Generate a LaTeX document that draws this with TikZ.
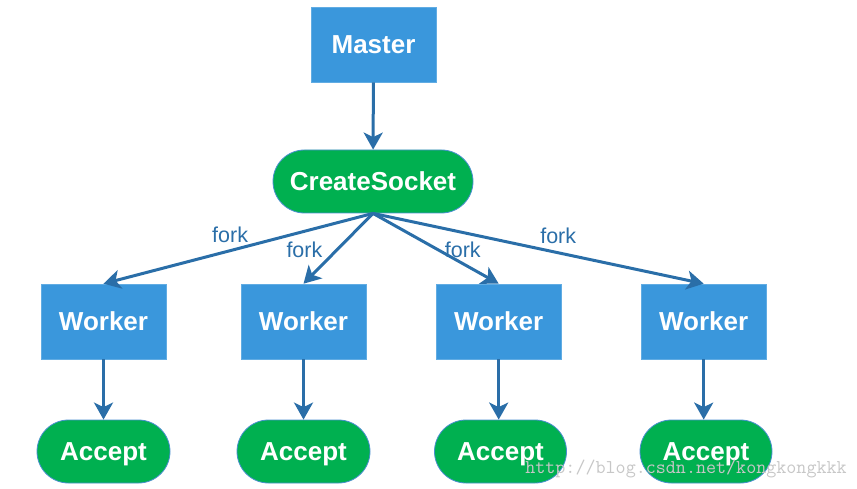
\documentclass[tikz,border=0pt]{standalone}
\usepackage{fontspec}
\setmainfont{Liberation Sans}
\usetikzlibrary{shapes.misc, arrows.meta}

\definecolor{boxblue}{HTML}{3A97DC}
\definecolor{capgreen}{HTML}{00B050}
\definecolor{linkblue}{HTML}{2A6EA8}
\definecolor{rimblue}{HTML}{4A8FCF}

\begin{document}
\begin{tikzpicture}[x=1pt, y=-1pt,
	procbox/.style={fill=boxblue, draw=boxblue!80!white, line width=0.6pt,
		minimum width=125pt, minimum height=75pt, inner sep=0pt,
		text height=18.5pt, text depth=0pt,
		text=white, font=\fontsize{26}{29}\selectfont\bfseries},
	callcap/.style={rounded rectangle, fill=capgreen, draw=rimblue, line width=0.8pt,
		minimum height=63pt, inner sep=0pt,
		text height=18.5pt, text depth=0pt,
		text=white, font=\fontsize{26}{29}\selectfont\bfseries},
	flow/.style={-{Stealth[length=17pt, width=19pt, inset=4.5pt]}, draw=linkblue, line width=3pt},
	forklabel/.style={text=linkblue, font=\fontsize{21.5}{24}\selectfont, inner sep=1pt}
	]
	\useasboundingbox (0,0) rectangle (857,489);
	\node[procbox] (master) at (373.5, 44.5) {Master};
	\node[callcap, minimum width=200pt] (socket) at (373, 181.5) {CreateSocket};
	\node[procbox] (worker1) at (103.5, 321.5) {Worker};
	\node[procbox] (worker2) at (303.5, 321.5) {Worker};
	\node[procbox] (worker3) at (498.7, 321.5) {Worker};
	\node[procbox] (worker4) at (703.7, 321.5) {Worker};
	\node[callcap, minimum width=133pt] (accept1) at (103.5, 451.5) {Accept};
	\node[callcap, minimum width=133pt] (accept2) at (303.5, 451.5) {Accept};
	\node[callcap, minimum width=132pt] (accept3) at (500.5, 451.5) {Accept};
	\node[callcap, minimum width=132pt] (accept4) at (706, 451.5) {Accept};
	\draw[flow] (master) -- (socket);
	\draw[flow] (socket.south) -- node[forklabel, pos=0.53, above=5pt] {fork} (worker1.north);
	\draw[flow] (socket.south) -- node[forklabel, pos=0.52, left=12pt] {fork} (worker2.north);
	\draw[flow] (socket.south) -- node[forklabel, pos=0.52, right=4pt] {fork} (worker3.north);
	\draw[flow] (socket.south) -- node[forklabel, pos=0.56, above=7pt] {fork} (worker4.north);
	\foreach \i in {1,...,4}
		\draw[flow] (worker\i.south) -- (worker\i.south |- accept\i.north);
	\node[text=black!22, font=\ttfamily\fontsize{19.5}{22}\selectfont, inner sep=0pt] (mark) at (686, 469) {http://blog.csdn.net/kongkongkkk};
\end{tikzpicture}
\end{document}
